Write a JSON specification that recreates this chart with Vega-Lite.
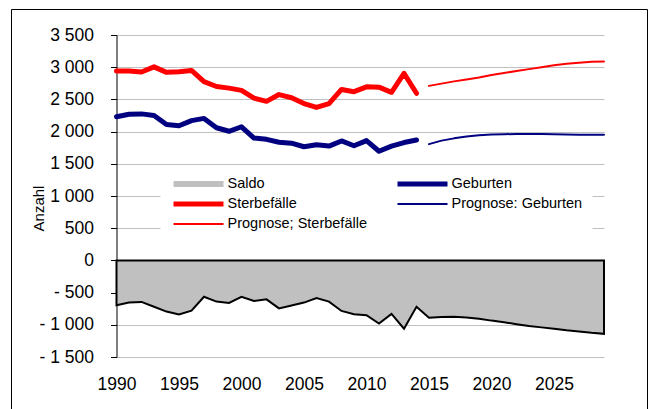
{
  "$schema": "https://vega.github.io/schema/vega-lite/v6.json",
  "width": 636,
  "height": 400,
  "autosize": {"type": "none"},
  "padding": {"left": 11, "top": 9, "right": 1, "bottom": 0},
  "background": "white",
  "config": {
    "view": {"stroke": "black", "strokeWidth": 1},
    "font": "Liberation Sans",
    "locale": {
      "number": {
        "decimal": ",",
        "thousands": " ",
        "grouping": [3],
        "currency": ["", " €"],
        "minus": "- "
      }
    }
  },
  "encoding": {
    "x": {
      "field": "year",
      "type": "quantitative",
      "scale": {"domain": [1990, 2029], "range": [105.5, 593], "nice": false, "zero": false},
      "axis": {
        "values": [1990, 1995, 2000, 2005, 2010, 2015, 2020, 2025],
        "format": "d",
        "offset": -148.6,
        "grid": false,
        "title": null,
        "domainColor": "black",
        "tickColor": "black",
        "tickSize": 6,
        "labelFontSize": 17.5,
        "labelColor": "black",
        "labelPadding": 109,
        "labelFlush": false,
        "labelOverlap": false
      }
    },
    "y": {
      "field": "value",
      "type": "quantitative",
      "scale": {"domain": [-1500, 3500], "range": [348, 26], "nice": false, "zero": false},
      "axis": {
        "values": [-1500, -1000, -500, 0, 500, 1000, 1500, 2000, 2500, 3000, 3500],
        "format": ",d",
        "offset": -105.5,
        "grid": true,
        "gridColor": "#C0C0C0",
        "gridWidth": 1,
        "domainColor": "black",
        "tickColor": "black",
        "tickSize": 6,
        "labelFontSize": 17.5,
        "labelColor": "black",
        "labelPadding": 17,
        "labelOverlap": false,
        "labelFlush": false,
        "title": "Anzahl",
        "titleFontSize": 15,
        "titleFontWeight": "normal",
        "titleColor": "black",
        "titleAngle": -90,
        "titleX": -78,
        "titleY": 199,
        "titleAlign": "center",
        "titleBaseline": "middle"
      }
    },
    "color": {
      "field": "series",
      "type": "nominal",
      "scale": {
        "domain": ["Saldo", "Sterbefälle", "Prognose; Sterbefälle", "Geburten", "Prognose: Geburten"],
        "range": ["#C0C0C0", "#FF0000", "#FF0000", "#000080", "#000080"]
      },
      "legend": {
        "orient": "none",
        "legendX": 149.5,
        "legendY": 157,
        "title": null,
        "columns": 2,
        "columnPadding": 27,
        "rowPadding": 4,
        "padding": 10,
        "fillColor": "white",
        "symbolSize": 2500,
        "symbolType": "stroke",
        "symbolOpacity": 1,
        "clipHeight": 16,
        "labelFontSize": 14.5,
        "labelColor": "black",
        "labelOffset": 1,
        "labelLimit": 300
      }
    }
  },
  "layer": [
    {
      "data": {"values": [
        {"year": 1990, "series": "Geburten", "value": 2230},
        {"year": 1991, "series": "Geburten", "value": 2270},
        {"year": 1992, "series": "Geburten", "value": 2275},
        {"year": 1993, "series": "Geburten", "value": 2250},
        {"year": 1994, "series": "Geburten", "value": 2110},
        {"year": 1995, "series": "Geburten", "value": 2090},
        {"year": 1996, "series": "Geburten", "value": 2170},
        {"year": 1997, "series": "Geburten", "value": 2205},
        {"year": 1998, "series": "Geburten", "value": 2060},
        {"year": 1999, "series": "Geburten", "value": 2005},
        {"year": 2000, "series": "Geburten", "value": 2075},
        {"year": 2001, "series": "Geburten", "value": 1900},
        {"year": 2002, "series": "Geburten", "value": 1880},
        {"year": 2003, "series": "Geburten", "value": 1835},
        {"year": 2004, "series": "Geburten", "value": 1820},
        {"year": 2005, "series": "Geburten", "value": 1765},
        {"year": 2006, "series": "Geburten", "value": 1795},
        {"year": 2007, "series": "Geburten", "value": 1775},
        {"year": 2008, "series": "Geburten", "value": 1855},
        {"year": 2009, "series": "Geburten", "value": 1780},
        {"year": 2010, "series": "Geburten", "value": 1860},
        {"year": 2011, "series": "Geburten", "value": 1695},
        {"year": 2012, "series": "Geburten", "value": 1775},
        {"year": 2013, "series": "Geburten", "value": 1830},
        {"year": 2014, "series": "Geburten", "value": 1870},
        {"year": 1990, "series": "Sterbefälle", "value": 2940},
        {"year": 1991, "series": "Sterbefälle", "value": 2940},
        {"year": 1992, "series": "Sterbefälle", "value": 2925},
        {"year": 1993, "series": "Sterbefälle", "value": 3005},
        {"year": 1994, "series": "Sterbefälle", "value": 2920},
        {"year": 1995, "series": "Sterbefälle", "value": 2930},
        {"year": 1996, "series": "Sterbefälle", "value": 2950},
        {"year": 1997, "series": "Sterbefälle", "value": 2775},
        {"year": 1998, "series": "Sterbefälle", "value": 2700},
        {"year": 1999, "series": "Sterbefälle", "value": 2675},
        {"year": 2000, "series": "Sterbefälle", "value": 2640},
        {"year": 2001, "series": "Sterbefälle", "value": 2520},
        {"year": 2002, "series": "Sterbefälle", "value": 2470},
        {"year": 2003, "series": "Sterbefälle", "value": 2575},
        {"year": 2004, "series": "Sterbefälle", "value": 2525},
        {"year": 2005, "series": "Sterbefälle", "value": 2435},
        {"year": 2006, "series": "Sterbefälle", "value": 2375},
        {"year": 2007, "series": "Sterbefälle", "value": 2435},
        {"year": 2008, "series": "Sterbefälle", "value": 2655},
        {"year": 2009, "series": "Sterbefälle", "value": 2620},
        {"year": 2010, "series": "Sterbefälle", "value": 2695},
        {"year": 2011, "series": "Sterbefälle", "value": 2690},
        {"year": 2012, "series": "Sterbefälle", "value": 2610},
        {"year": 2013, "series": "Sterbefälle", "value": 2905},
        {"year": 2014, "series": "Sterbefälle", "value": 2595},
        {"year": 2015, "series": "Prognose: Geburten", "value": 1805},
        {"year": 2016, "series": "Prognose: Geburten", "value": 1860},
        {"year": 2017, "series": "Prognose: Geburten", "value": 1895},
        {"year": 2018, "series": "Prognose: Geburten", "value": 1925},
        {"year": 2019, "series": "Prognose: Geburten", "value": 1945},
        {"year": 2020, "series": "Prognose: Geburten", "value": 1955},
        {"year": 2021, "series": "Prognose: Geburten", "value": 1960},
        {"year": 2022, "series": "Prognose: Geburten", "value": 1962},
        {"year": 2023, "series": "Prognose: Geburten", "value": 1962},
        {"year": 2024, "series": "Prognose: Geburten", "value": 1962},
        {"year": 2025, "series": "Prognose: Geburten", "value": 1960},
        {"year": 2026, "series": "Prognose: Geburten", "value": 1955},
        {"year": 2027, "series": "Prognose: Geburten", "value": 1953},
        {"year": 2028, "series": "Prognose: Geburten", "value": 1953},
        {"year": 2029, "series": "Prognose: Geburten", "value": 1953},
        {"year": 2015, "series": "Prognose; Sterbefälle", "value": 2710},
        {"year": 2016, "series": "Prognose; Sterbefälle", "value": 2745},
        {"year": 2017, "series": "Prognose; Sterbefälle", "value": 2780},
        {"year": 2018, "series": "Prognose; Sterbefälle", "value": 2810},
        {"year": 2019, "series": "Prognose; Sterbefälle", "value": 2840},
        {"year": 2020, "series": "Prognose; Sterbefälle", "value": 2880},
        {"year": 2021, "series": "Prognose; Sterbefälle", "value": 2910},
        {"year": 2022, "series": "Prognose; Sterbefälle", "value": 2940},
        {"year": 2023, "series": "Prognose; Sterbefälle", "value": 2970},
        {"year": 2024, "series": "Prognose; Sterbefälle", "value": 3000},
        {"year": 2025, "series": "Prognose; Sterbefälle", "value": 3030},
        {"year": 2026, "series": "Prognose; Sterbefälle", "value": 3055},
        {"year": 2027, "series": "Prognose; Sterbefälle", "value": 3070},
        {"year": 2028, "series": "Prognose; Sterbefälle", "value": 3085},
        {"year": 2029, "series": "Prognose; Sterbefälle", "value": 3090}
      ]},
      "mark": {"type": "line", "strokeCap": "round", "strokeJoin": "round"},
      "encoding": {
        "strokeWidth": {
          "field": "series",
          "type": "nominal",
          "scale": {
            "type": "ordinal",
            "domain": ["Saldo", "Sterbefälle", "Prognose; Sterbefälle", "Geburten", "Prognose: Geburten"],
            "range": [6, 5, 2, 5, 2]
          }
        }
      }
    },
    {
      "data": {"values": [
        {"year": 1990, "series": "Saldo", "value": -695},
        {"year": 1991, "series": "Saldo", "value": -655},
        {"year": 1992, "series": "Saldo", "value": -645},
        {"year": 1993, "series": "Saldo", "value": -720},
        {"year": 1994, "series": "Saldo", "value": -795},
        {"year": 1995, "series": "Saldo", "value": -840},
        {"year": 1996, "series": "Saldo", "value": -780},
        {"year": 1997, "series": "Saldo", "value": -565},
        {"year": 1998, "series": "Saldo", "value": -640},
        {"year": 1999, "series": "Saldo", "value": -660},
        {"year": 2000, "series": "Saldo", "value": -565},
        {"year": 2001, "series": "Saldo", "value": -630},
        {"year": 2002, "series": "Saldo", "value": -605},
        {"year": 2003, "series": "Saldo", "value": -745},
        {"year": 2004, "series": "Saldo", "value": -700},
        {"year": 2005, "series": "Saldo", "value": -655},
        {"year": 2006, "series": "Saldo", "value": -585},
        {"year": 2007, "series": "Saldo", "value": -640},
        {"year": 2008, "series": "Saldo", "value": -785},
        {"year": 2009, "series": "Saldo", "value": -835},
        {"year": 2010, "series": "Saldo", "value": -850},
        {"year": 2011, "series": "Saldo", "value": -980},
        {"year": 2012, "series": "Saldo", "value": -830},
        {"year": 2013, "series": "Saldo", "value": -1060},
        {"year": 2014, "series": "Saldo", "value": -720},
        {"year": 2015, "series": "Saldo", "value": -890},
        {"year": 2016, "series": "Saldo", "value": -880},
        {"year": 2017, "series": "Saldo", "value": -875},
        {"year": 2018, "series": "Saldo", "value": -885},
        {"year": 2019, "series": "Saldo", "value": -905},
        {"year": 2020, "series": "Saldo", "value": -935},
        {"year": 2021, "series": "Saldo", "value": -960},
        {"year": 2022, "series": "Saldo", "value": -990},
        {"year": 2023, "series": "Saldo", "value": -1020},
        {"year": 2024, "series": "Saldo", "value": -1040},
        {"year": 2025, "series": "Saldo", "value": -1060},
        {"year": 2026, "series": "Saldo", "value": -1085},
        {"year": 2027, "series": "Saldo", "value": -1105},
        {"year": 2028, "series": "Saldo", "value": -1125},
        {"year": 2029, "series": "Saldo", "value": -1140}
      ]},
      "mark": {"type": "area", "stroke": "black", "strokeWidth": 2, "strokeJoin": "miter"},
      "encoding": {"y2": {"datum": 0}}
    }
  ]
}
